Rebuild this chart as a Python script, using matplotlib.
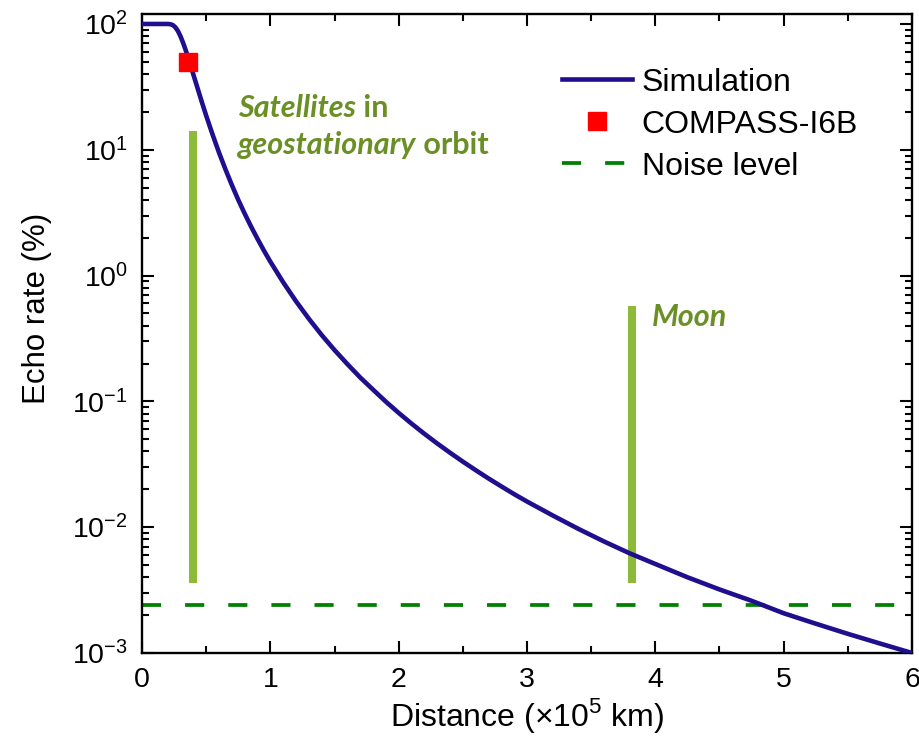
import matplotlib
matplotlib.use('Agg')
import matplotlib.pyplot as plt
from matplotlib.ticker import MultipleLocator, LogLocator

plt.rcParams['font.family'] = ['Liberation Sans', 'DejaVu Sans']
plt.rcParams['mathtext.fontset'] = 'custom'
plt.rcParams['mathtext.rm'] = 'Liberation Sans'
plt.rcParams['axes.unicode_minus'] = False

# simulated echo rate vs distance (x in 1e5 km, y in %)
distance = [0.0, 0.1, 0.15, 0.2, 0.22, 0.24, 0.26, 0.28, 0.30, 0.32, 0.34, 0.36, 0.38,
            0.40, 0.42, 0.45, 0.47, 0.5, 0.525, 0.55, 0.575, 0.6, 0.65, 0.7, 0.75,
            0.8, 0.85, 0.9, 0.95, 1.0, 1.1, 1.2, 1.3, 1.4, 1.5, 1.6, 1.7, 1.8, 1.9,
            2.0, 2.1, 2.2, 2.3, 2.4, 2.5, 2.6, 2.7, 2.8, 2.9, 3.0, 3.2, 3.4, 3.6,
            3.8, 4.0, 4.25, 4.5, 4.75, 5.0, 5.25, 5.5, 5.75, 6.0]
echo_rate = [100, 100, 100, 100, 99.6, 98.0, 94.1, 87.9, 79.8, 70.9, 62.1, 53.8, 46.3,
             39.7, 34.1, 27.1, 23.3, 18.7, 15.7, 13.2, 11.2, 9.5, 7.0, 5.25, 4.0,
             3.11, 2.45, 1.96, 1.58, 1.29, 0.885, 0.625, 0.454, 0.337, 0.256, 0.198,
             0.155, 0.124, 0.0995, 0.081, 0.0666, 0.0553, 0.0463, 0.0391, 0.0332,
             0.0284, 0.0244, 0.0211, 0.0183, 0.016, 0.0124, 0.0097, 0.0077, 0.0062,
             0.0051, 0.0040, 0.0032, 0.0026, 0.00207, 0.00171, 0.00142, 0.00119, 0.001]

# measured point
compass_x = [0.356]
compass_y = [50]

noise_level = 0.0024

# vertical markers (satellites in GEO, Moon)
sat_x, sat_ylo, sat_yhi = 0.40, 0.0036, 14.1
moon_x, moon_ylo, moon_yhi = 3.82, 0.0036, 0.577

fig = plt.figure(figsize=(9.19, 7.43), dpi=100)
ax = fig.add_axes([142/919, 1-653/743, 770/919, 639/743])

bar_col = '#8DBA38'
txt_col = '#6A8F24'

ax.plot([sat_x, sat_x], [sat_ylo, sat_yhi], color=bar_col, lw=5.8, solid_capstyle='butt', zorder=2)
ax.plot([moon_x, moon_x], [moon_ylo, moon_yhi], color=bar_col, lw=5.8, solid_capstyle='butt', zorder=2)

ax.plot(distance, echo_rate, color='#1F0E8E', lw=3.3, label='Simulation', zorder=3,
        solid_joinstyle='round')
ax.plot(compass_x, compass_y, 's', color='#FF0000', ms=12.5, mec='#FF0000',
        label='COMPASS-I6B', zorder=4)
ax.axhline(noise_level, color='#008000', lw=2.7, dashes=(5.1, 6.4), label='Noise level', zorder=2)

ax.set_yscale('log')
ax.set_xlim(0, 6)
ax.set_ylim(1e-3, 120)
ax.xaxis.set_major_locator(MultipleLocator(1))
ax.xaxis.set_minor_locator(MultipleLocator(0.5))
ax.yaxis.set_major_locator(LogLocator(base=10, numticks=10))
ax.yaxis.set_minor_locator(LogLocator(base=10, subs=range(2, 10), numticks=20))
ax.tick_params(which='both', direction='in', top=True, right=True, width=1.5,
               labelsize=20.5, pad=10)
ax.tick_params(which='major', length=8.6)
ax.tick_params(which='minor', length=5)
for s in ax.spines.values():
    s.set_linewidth(1.7)

ax.set_xlabel(r'Distance ($\times$10$^5$ km)', fontsize=23, labelpad=2)
ax.set_ylabel('Echo rate (%)', fontsize=22.5)
ax.yaxis.set_label_coords(-0.1175, 0.54)

leg = ax.legend(loc='upper left', bbox_to_anchor=(0.545, 0.916), frameon=False,
                fontsize=23, handlelength=2.2, handletextpad=0.3, labelspacing=0.375,
                borderpad=0, borderaxespad=0)

# annotations
tfont = dict(family=['Lato', 'DejaVu Sans'], fontsize=22, color=txt_col, fontweight='bold')
t1 = ax.text(0.1247, 0.853, 'Satellites', transform=ax.transAxes, va='center', style='italic', **tfont)
ax.annotate(' in', xy=(1, 0), xycoords=t1, va='bottom', ha='left', **tfont)
t2 = ax.text(0.1247, 0.795, 'geostationary', transform=ax.transAxes, va='center', style='italic', **tfont)
ax.annotate(' orbit', xy=(1, 0), xycoords=t2, va='bottom', ha='left', **tfont)
ax.text(0.662, 0.526, 'Moon', transform=ax.transAxes, va='center', style='italic', **tfont)

fig.savefig('out.png', dpi=100)
